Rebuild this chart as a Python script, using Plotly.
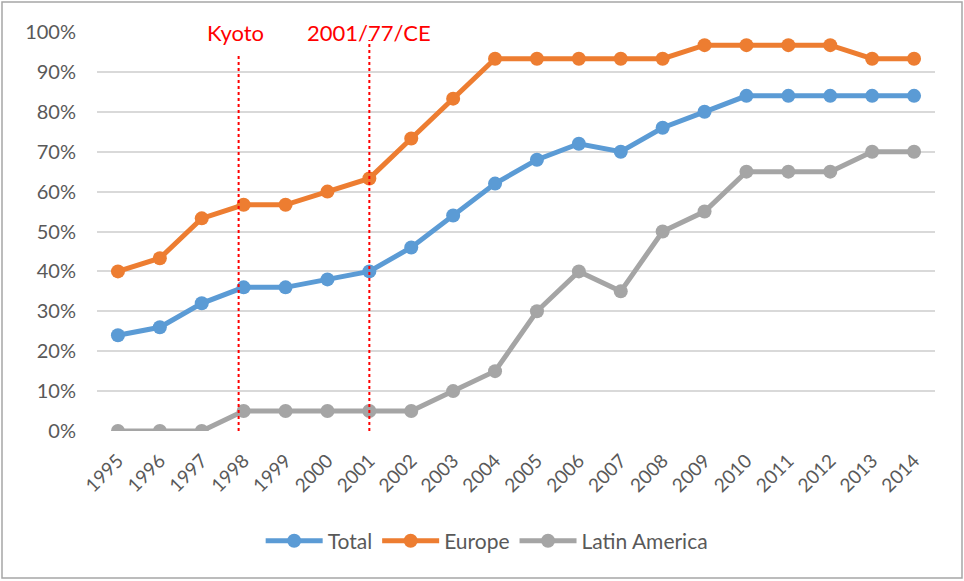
import plotly.graph_objects as go

years = list(range(1995, 2015))
total = [24, 26, 32, 36, 36, 38, 40, 46, 54, 62, 68, 72, 70, 76, 80, 84, 84, 84, 84, 84]
europe = [40, 43.3, 53.3, 56.7, 56.7, 60, 63.3, 73.3, 83.3, 93.3,
          93.3, 93.3, 93.3, 93.3, 96.7, 96.7, 96.7, 96.7, 93.3, 93.3]
latin_america = [0, 0, 0, 5, 5, 5, 5, 5, 10, 15, 30, 40, 35, 50, 55, 65, 65, 65, 70, 70]

pct_ticks = list(range(0, 101, 10))
pct_labels = [f"{v}%" for v in pct_ticks]

events = ["Kyoto", "2001/77/CE"]
event_x = [1997.88, 2001.0]
event_top = [94.3, 98.0]

SERIES = [
    ("Total", total, "#5B9BD5"),
    ("Europe", europe, "#ED7D31"),
    ("Latin America", latin_america, "#A5A5A5"),
]

FONT = "Lato, Open Sans, sans-serif"

fig = go.Figure()
for name, vals, color in SERIES:
    fig.add_trace(go.Scatter(
        x=years, y=vals, name=name, mode="lines+markers",
        line=dict(color=color, width=5),
        marker=dict(color=color, size=14),
    ))

# vertical dotted markers for the two events
for ex, top in zip(event_x, event_top):
    fig.add_shape(type="line", x0=ex, x1=ex, y0=0, y1=top,
                  line=dict(color="red", width=2, dash="dot"))

# white box behind the event labels (hides the 100% gridline)
fig.add_shape(type="rect", x0=1996.55, x1=2002.95, y0=97.3, y1=102.7,
              fillcolor="white", line=dict(width=0), layer="below")

for txt, ex in zip(events, [1997.8, 2001.0]):
    fig.add_annotation(x=ex, y=100, text=txt, showarrow=False,
                       font=dict(color="red", size=22, family=FONT),
                       yanchor="middle", xanchor="center")

# outer chart border
fig.add_shape(type="rect", xref="paper", yref="paper",
              x0=(2 - 97) / 838, x1=(962 - 97) / 838,
              y0=(431 - 578) / 399, y1=(431 - 2) / 399,
              line=dict(color="#A6A6A6", width=1.5))

fig.update_layout(
    width=964, height=581,
    margin=dict(l=97, r=29, t=32, b=150),
    plot_bgcolor="white", paper_bgcolor="white",
    font=dict(family=FONT, color="#595959", size=19),
    legend=dict(orientation="h", x=0.465, xanchor="center", y=-0.276,
                yanchor="middle", font=dict(size=21, color="#595959"),
                itemwidth=57, tracegroupgap=0),
    xaxis=dict(range=[1994.5, 2014.5], tickmode="array", tickvals=years,
               ticktext=[str(y) for y in years], tickangle=-45,
               tickfont=dict(size=19), ticklabelstandoff=14,
               showgrid=False, zeroline=False, showline=False, ticks=""),
    yaxis=dict(range=[0, 100], tickmode="array", tickvals=pct_ticks,
               ticktext=pct_labels, tickfont=dict(size=20), ticklabelstandoff=20,
               gridcolor="#D9D9D9", gridwidth=1.5,
               zeroline=False, showline=False, ticks="", layer="below traces"),
)

fig.write_html("out.html", config={"displayModeBar": False},
               post_script="document.body.style.margin='0';")
